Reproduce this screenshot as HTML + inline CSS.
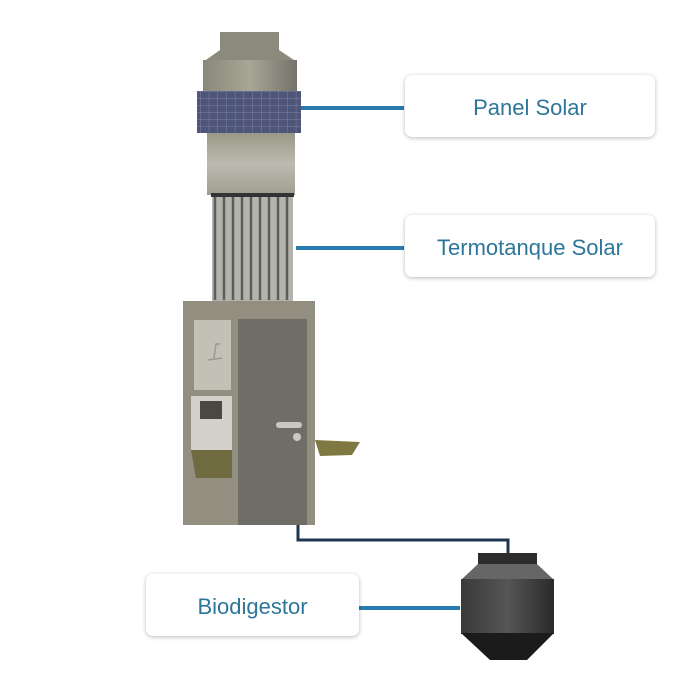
<!DOCTYPE html>
<html><head><meta charset="utf-8"><style>
body{margin:0;background:#fff;width:700px;height:700px;overflow:hidden;position:relative;font-family:"Liberation Sans",sans-serif}
.lbl{position:absolute;background:#fff;border-radius:7px;box-shadow:0 1px 4px rgba(0,0,0,.28);color:#2d7699;font-size:22px;display:flex;align-items:center;justify-content:center;padding-top:3px;box-sizing:border-box}
</style></head><body>
<svg width="700" height="700" style="position:absolute;left:0;top:0">
<defs>
<linearGradient id="g1" x1="0" x2="1"><stop offset="0" stop-color="#8a887a"/><stop offset=".5" stop-color="#a8a696"/><stop offset="1" stop-color="#75736a"/></linearGradient>
<linearGradient id="g2" x1="0" y1="0" x2="0" y2="1"><stop offset="0" stop-color="#9a9888"/><stop offset=".5" stop-color="#bdbbb0"/><stop offset="1" stop-color="#a09e90"/></linearGradient>
<linearGradient id="tk" x1="0" x2="1"><stop offset="0" stop-color="#3a3a3a"/><stop offset=".5" stop-color="#555"/><stop offset="1" stop-color="#2a2a2a"/></linearGradient>
<pattern id="pv" width="8.7" height="7" patternUnits="userSpaceOnUse"><rect width="8.7" height="7" fill="#4e5578"/><path d="M0 0H8.7M0 0V7" stroke="#8890b0" stroke-width=".8"/></pattern>
</defs>
<g fill="#2a7ab0"><rect x="300" y="106" width="104" height="4"/><rect x="296" y="246" width="108" height="4"/><rect x="358" y="606" width="102" height="4"/></g>
<rect x="220" y="32" width="59" height="20" fill="#8c8a7c"/>
<polygon points="220,50 279,50 297,62 203,62" fill="#8c8a7c"/>
<rect x="203" y="60" width="94" height="33" fill="url(#g1)"/>
<rect x="197" y="91" width="104" height="42" fill="url(#pv)"/>
<rect x="207" y="133" width="88" height="62" fill="url(#g2)"/>
<rect x="212" y="195" width="81" height="106" fill="#b4b4ae"/>
<g stroke="#5c5c58" stroke-width="2.5">
<line x1="215" y1="196" x2="215" y2="300"/><line x1="224" y1="196" x2="224" y2="300"/><line x1="233" y1="196" x2="233" y2="300"/><line x1="242" y1="196" x2="242" y2="300"/><line x1="251" y1="196" x2="251" y2="300"/><line x1="260" y1="196" x2="260" y2="300"/><line x1="269" y1="196" x2="269" y2="300"/><line x1="278" y1="196" x2="278" y2="300"/><line x1="287" y1="196" x2="287" y2="300"/>
</g>
<rect x="211" y="193" width="83" height="4" fill="#333"/>
<rect x="183" y="301" width="132" height="224" fill="#928f80"/>
<rect x="238" y="319" width="69" height="206" fill="#6e6d66"/>
<rect x="194" y="320" width="37" height="70" fill="#c3c0b6"/>
<path d="M208 360 L222 358 M214 358 L216 344 L220 344" stroke="#999" stroke-width="1.5" fill="none"/>
<polygon points="191,450 232,450 232,478 196,478" fill="#6f6a40"/>
<rect x="191" y="396" width="41" height="54" fill="#d2d0c8"/>
<rect x="200" y="401" width="22" height="18" fill="#4a4842"/>
<rect x="276" y="422" width="26" height="6" rx="3" fill="#c9c8c2"/>
<circle cx="297" cy="437" r="4" fill="#c9c8c2"/>
<polygon points="315,440 360,442 352,455 320,456" fill="#807842"/>
<path d="M298 525 V540 H508 V555" stroke="#1e3550" stroke-width="3" fill="none"/>
<rect x="478" y="553" width="59" height="11" fill="#2c2c2c"/>
<polygon points="478,564 537,564 554,580 461,580" fill="#666"/>
<rect x="461" y="579" width="93" height="55" fill="url(#tk)"/>
<polygon points="461,633 554,633 527,660 490,660" fill="#1b1b1b"/>
</svg>
<div class="lbl" style="left:405px;top:75px;width:250px;height:62px">Panel Solar</div>
<div class="lbl" style="left:405px;top:215px;width:250px;height:62px">Termotanque Solar</div>
<div class="lbl" style="left:146px;top:574px;width:213px;height:62px">Biodigestor</div>
</body></html>
